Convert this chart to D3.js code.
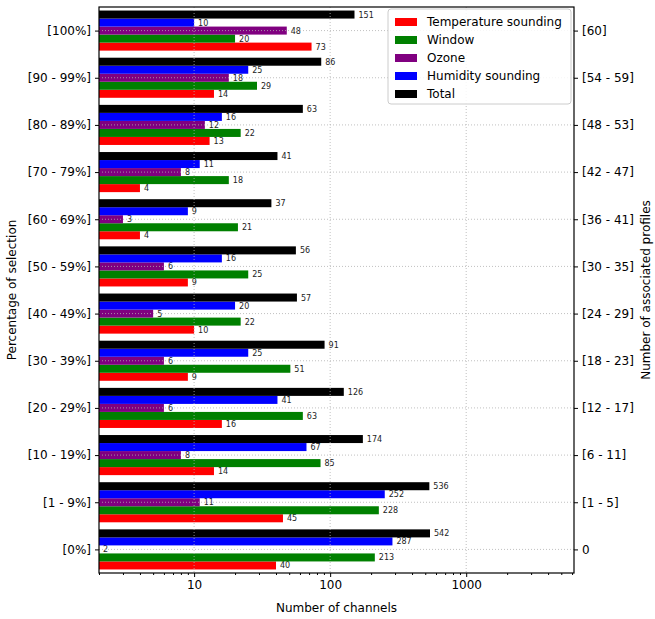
<!DOCTYPE html>
<html>
<head>
<meta charset="UTF-8">
<script src="https://cdn.jsdelivr.net/npm/d3@7"></script>
<style>body{margin:0;background:#fff;font-family:"DejaVu Sans",sans-serif;}</style>
</head>
<body>
<svg width="655" height="619"></svg>
<script>
var leftLabels = ["[0%]","[1 - 9%]","[10 - 19%]","[20 - 29%]","[30 - 39%]","[40 - 49%]","[50 - 59%]","[60 - 69%]","[70 - 79%]","[80 - 89%]","[90 - 99%]","[100%]"];
var rightLabels = ["0","[1 - 5]","[6 - 11]","[12 - 17]","[18 - 23]","[24 - 29]","[30 - 35]","[36 - 41]","[42 - 47]","[48 - 53]","[54 - 59]","[60]"];
var temperature = [40,45,14,16,9,10,9,4,4,13,14,73];
var windowCh   = [213,228,85,63,51,22,25,21,18,22,29,20];
var ozone      = [2,11,8,6,6,5,6,3,8,12,18,48];
var humidity   = [287,252,67,41,25,20,16,9,11,16,25,10];
var total      = [542,536,174,126,91,57,56,37,41,63,86,151];

var series = [
    {name:"Temperature sounding", color:"red", values:temperature, off:-2},
    {name:"Window", color:"green", values:windowCh, off:-1},
    {name:"Ozone", color:"purple", values:ozone, off:0},
    {name:"Humidity sounding", color:"blue", values:humidity, off:1},
    {name:"Total", color:"black", values:total, off:2}
];

var svg = d3.select("svg"),
    M = {left:99, right:574, top:7, bottom:573};

var x = d3.scaleLog().domain([2, 6200]).range([M.left, M.right]);
var y = d3.scaleLinear().domain([-0.5, 11.5]).range([M.bottom, M.top]);
var bw = 0.17;

series.forEach(function(s){
    var g = svg.append("g");
    s.values.forEach(function(v, i){
        var yc = i + s.off*bw;
        g.append("rect")
            .attr("x", x(2)).attr("width", x(v)-x(2))
            .attr("y", y(yc+bw/2)).attr("height", y(yc-bw/2)-y(yc+bw/2))
            .attr("fill", s.color);
        g.append("text")
            .attr("x", x(v)+4).attr("y", y(yc)+3)
            .attr("font-size", 8).attr("fill", "#222").text(v);
    });
});

// grid on top
var grid = svg.append("g").attr("stroke", "#b0b0b0").attr("stroke-dasharray", "1,2").attr("stroke-width", 0.8);
[10,100,1000].forEach(function(t){
    grid.append("line").attr("x1", x(t)).attr("x2", x(t)).attr("y1", M.top).attr("y2", M.bottom);
});
leftLabels.forEach(function(d, i){
    grid.append("line").attr("x1", M.left).attr("x2", M.right).attr("y1", y(i)).attr("y2", y(i));
});

// axes
var xAxis = d3.axisBottom(x).tickValues(d3.range(2,10).concat(d3.range(10,100,10), d3.range(100,1000,100), d3.range(1000,6001,1000)))
    .tickFormat(function(d){ return [10,100,1000].indexOf(d) >= 0 ? d : ""; })
    .tickSize(0);
var gx = svg.append("g").attr("transform", "translate(0," + M.bottom + ")").call(xAxis);
gx.selectAll(".tick line").attr("y2", function(d){ return [10,100,1000].indexOf(d) >= 0 ? 4 : 2; });
gx.selectAll("text").attr("font-size", 12).attr("dy", "1.1em").attr("font-family", "DejaVu Sans");
gx.select(".domain").remove();

var gl = svg.append("g").attr("transform", "translate(" + M.left + ",0)")
    .call(d3.axisLeft(y).tickValues(d3.range(12)).tickFormat(function(i){ return leftLabels[i]; }).tickSize(4).tickPadding(4));
var gr = svg.append("g").attr("transform", "translate(" + M.right + ",0)")
    .call(d3.axisRight(y).tickValues(d3.range(12)).tickFormat(function(i){ return rightLabels[i]; }).tickSize(4).tickPadding(4));
[gl, gr].forEach(function(g){
    g.select(".domain").remove();
    g.selectAll("text").attr("font-size", 12).attr("font-family", "DejaVu Sans");
});

svg.append("rect").attr("x", M.left).attr("y", M.top).attr("width", M.right-M.left).attr("height", M.bottom-M.top)
    .attr("fill", "none").attr("stroke", "black").attr("stroke-width", 1.2);

svg.append("text").attr("x", (M.left+M.right)/2).attr("y", 612).attr("text-anchor", "middle")
    .attr("font-size", 12).text("Number of channels");
svg.append("text").attr("transform", "translate(16," + (M.top+M.bottom)/2 + ") rotate(-90)").attr("text-anchor", "middle")
    .attr("font-size", 12).text("Percentage of selection");
svg.append("text").attr("transform", "translate(650," + (M.top+M.bottom)/2 + ") rotate(-90)").attr("text-anchor", "middle")
    .attr("font-size", 12).text("Number of associated profiles");

// legend
var lg = svg.append("g").attr("transform", "translate(388,9)");
lg.append("rect").attr("width", 183).attr("height", 95).attr("rx", 3).attr("fill", "white").attr("fill-opacity", 0.85).attr("stroke", "#ccc");
series.forEach(function(s, i){
    lg.append("rect").attr("x", 7).attr("y", 9+i*18).attr("width", 22).attr("height", 8).attr("fill", s.color);
    lg.append("text").attr("x", 39).attr("y", 17+i*18).attr("font-size", 12).text(s.name);
});
</script>
</body>
</html>
